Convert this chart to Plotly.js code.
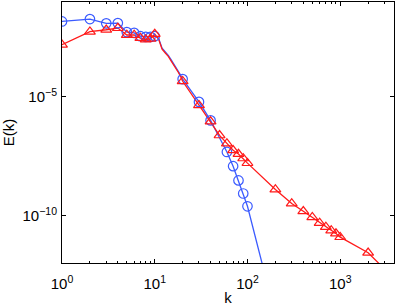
<!DOCTYPE html>
<html>
<head>
<meta charset="utf-8">
<script src="https://cdn.plot.ly/plotly-3.0.1.min.js"></script>
<style>html,body{margin:0;padding:0;background:#fff;}#chart{width:399px;height:307px;}</style>
</head>
<body>
<div id="chart"></div>
<script>
// Blue series (circles): line data and marker data (log10 E values)
const blueLineK   = [1, 2, 3, 4, 5, 6, 7, 8, 9, 10, 11, 12, 13, 14, 15, 16, 17, 18, 19, 20, 30, 40, 50, 60, 70, 80, 90, 100, 150];
const blueLineLog = [-1.82, -1.72, -1.90, -1.89, -2.27, -2.30, -2.44, -2.47, -2.47, -2.44, -2.53, -2.95, -3.10, -3.25, -3.43, -3.60, -3.73, -3.92, -4.08, -4.25, -5.21, -5.99, -6.70, -7.32, -7.92, -8.52, -9.07, -9.61, -12.3];
const blueMarkK   = [1, 2, 3, 4, 5, 6, 7, 8, 9, 10, 20, 30, 40, 60, 70, 80, 90, 100];
const blueMarkLog = [-1.82, -1.72, -1.90, -1.89, -2.27, -2.30, -2.44, -2.47, -2.47, -2.44, -4.25, -5.21, -5.99, -7.32, -7.92, -8.52, -9.07, -9.61];

// Red series (triangles)
const redLineK   = [1, 2, 3, 4, 5, 6, 7, 8, 9, 10, 11, 12, 13, 14, 15, 16, 17, 18, 19, 20, 30, 40, 50, 60, 70, 80, 90, 100, 200, 300, 400, 500, 600, 700, 800, 900, 1000, 2000, 3000];
const redLineLog = [-2.80, -2.25, -2.17, -2.10, -2.39, -2.39, -2.52, -2.58, -2.55, -2.35, -2.56, -2.99, -3.15, -3.29, -3.48, -3.65, -3.78, -3.97, -4.14, -4.34, -5.35, -6.04, -6.62, -6.96, -7.25, -7.41, -7.59, -7.79, -8.90, -9.49, -9.82, -10.07, -10.31, -10.48, -10.63, -10.76, -10.91, -11.57, -12.25];
const redMarkK   = [1, 2, 3, 4, 5, 6, 7, 8, 9, 10, 20, 30, 40, 50, 60, 70, 80, 90, 100, 200, 300, 400, 500, 600, 700, 800, 900, 1000, 2000];
const redMarkLog = [-2.80, -2.25, -2.17, -2.10, -2.39, -2.39, -2.52, -2.58, -2.55, -2.35, -4.34, -5.35, -6.04, -6.62, -6.96, -7.25, -7.41, -7.59, -7.79, -8.90, -9.49, -9.82, -10.07, -10.31, -10.48, -10.63, -10.76, -10.91, -11.57];

const xTickVals = [1, 10, 100, 1000];
const xTickText = ['10<sup>0</sup>', '10<sup>1</sup>', '10<sup>2</sup>', '10<sup>3</sup>'];
const yTickVals = [1e-10, 1e-5];
const yTickText = ['10<sup>\u221210</sup>', '10<sup>\u22125</sup>'];

const pow = a => a.map(v => Math.pow(10, v));
const BLUE = '#3b5bff', RED = '#ff1a1a';

const xMinor = [];
[1, 10, 100, 1000].forEach(d => { for (let i = 2; i <= 9; i++) { if (d * i < 3800) xMinor.push(d * i); } });

const traces = [
  {x: blueLineK, y: pow(blueLineLog), mode: 'lines', line: {color: BLUE, width: 1.3}, hoverinfo: 'skip'},
  {x: redLineK, y: pow(redLineLog), mode: 'lines', line: {color: RED, width: 1.3}, hoverinfo: 'skip'},
  {x: blueMarkK, y: pow(blueMarkLog), mode: 'markers', marker: {symbol: 'circle-open', size: 9.5, color: BLUE, line: {width: 1.2}}},
  {x: redMarkK, y: pow(redMarkLog), mode: 'markers', marker: {symbol: 'triangle-up-open', size: 9.5, color: RED, line: {width: 1.2}}}
];

const layout = {
  width: 399, height: 307,
  margin: {l: 62, r: 5, t: 2, b: 44},
  showlegend: false,
  paper_bgcolor: '#fff', plot_bgcolor: '#fff',
  font: {family: 'Liberation Sans, Arial, sans-serif', size: 15, color: '#000'},
  xaxis: {
    type: 'log', range: [0, 3.58],
    tickmode: 'array', tickvals: xTickVals, ticktext: xTickText,
    ticks: 'inside', ticklen: 4, tickwidth: 1, tickcolor: '#000',
    ticklabelstandoff: 7,
    minor: {tickmode: 'array', tickvals: xMinor, ticks: 'inside', ticklen: 2, tickcolor: '#000', showgrid: false},
    showline: true, linecolor: '#000', linewidth: 1, mirror: 'allticks',
    showgrid: false, zeroline: false,
    title: {text: 'k', font: {size: 15}, standoff: 1}
  },
  yaxis: {
    type: 'log', range: [-12, -1],
    tickmode: 'array', tickvals: yTickVals, ticktext: yTickText,
    ticks: 'inside', ticklen: 4, tickwidth: 1, tickcolor: '#000',
    ticklabelstandoff: 1,
    showline: true, linecolor: '#000', linewidth: 1, mirror: 'allticks',
    showgrid: false, zeroline: false,
    title: {text: 'E(k)', font: {size: 15}, standoff: 4}
  }
};

Plotly.newPlot('chart', traces, layout, {displayModeBar: false, staticPlot: true});
</script>
</body>
</html>
